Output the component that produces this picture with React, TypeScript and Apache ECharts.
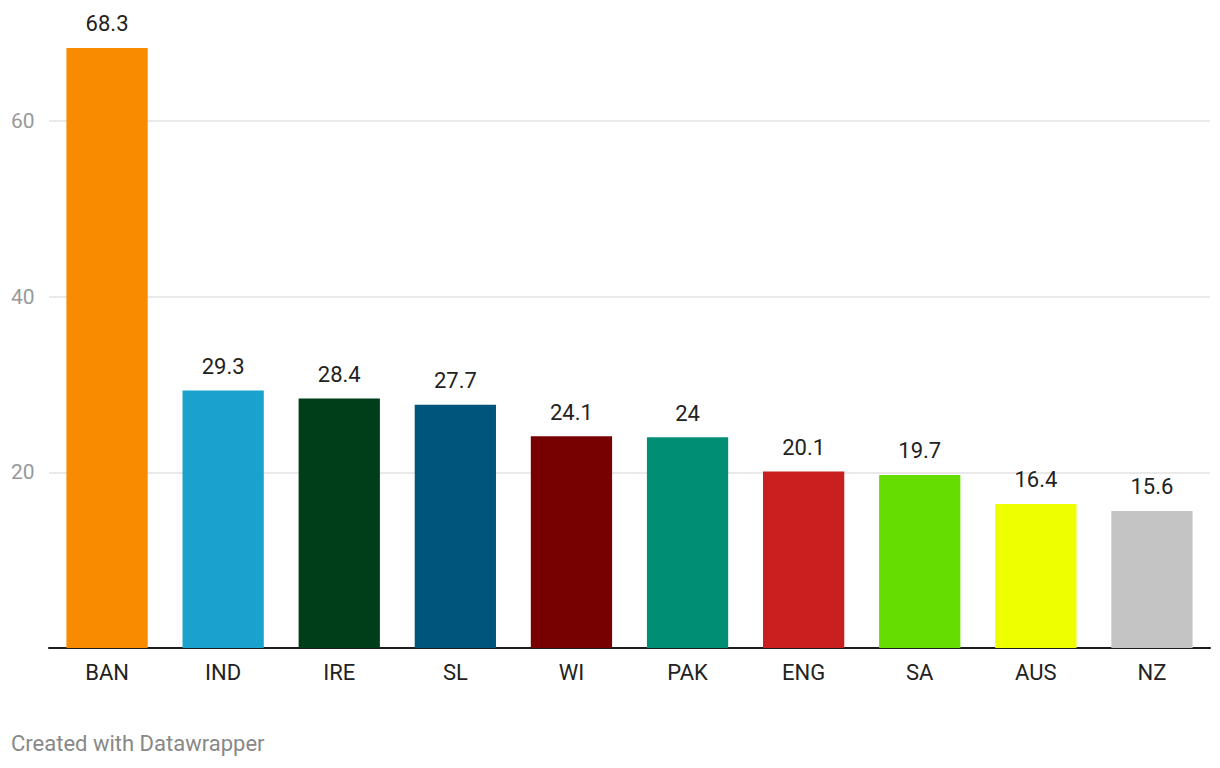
import React, { useEffect, useRef } from "react";
import * as echarts from "echarts";

const categories = ["BAN", "IND", "IRE", "SL", "WI", "PAK", "ENG", "SA", "AUS", "NZ"];
const values = [68.3, 29.3, 28.4, 27.7, 24.1, 24, 20.1, 19.7, 16.4, 15.6];
const colors = ["#f88b00", "#1aa1cd", "#003d19", "#00557c", "#770000", "#008f74", "#c91f1f", "#66dd00", "#eeff00", "#c4c4c4"];
const footer = "Created with Datawrapper";

export default function App() {
  const ref = useRef<HTMLDivElement>(null);
  useEffect(() => {
    if (!ref.current) return;
    const chart = echarts.init(ref.current, null, { renderer: "svg" });
    const font = "Roboto, 'Noto Sans', sans-serif";
    chart.setOption({
      animation: false,
      textStyle: { fontFamily: font },
      grid: { left: 49, right: 10, top: 33, bottom: 120, containLabel: false },
      xAxis: {
        type: "category",
        data: categories,
        axisLine: { lineStyle: { color: "#1d1d1d", width: 2 } },
        axisTick: { show: false },
        axisLabel: { color: "#222", fontSize: 22, margin: 13, fontFamily: font },
      },
      yAxis: {
        type: "value",
        min: 0,
        max: 70,
        interval: 20,
        axisLine: { show: false },
        axisTick: { show: false },
        axisLabel: {
          color: "#999",
          fontSize: 21,
          align: "left",
          margin: 38,
          showMaxLabel: false,
          showMinLabel: false,
          fontFamily: font,
        },
        splitLine: { lineStyle: { color: "#e2e2e2", width: 1.5 }, showMaxLine: false },
      },
      series: [
        {
          type: "bar",
          barWidth: "70%",
          data: values.map((v, i) => ({ value: v, itemStyle: { color: colors[i] } })),
          label: {
            show: true,
            position: "top",
            distance: 13,
            color: "#222",
            fontSize: 22,
            fontFamily: font,
          },
        },
      ],
      graphic: [
        {
          type: "text",
          left: 11,
          top: 732,
          style: { text: footer, fill: "#888", fontSize: 22, fontFamily: font },
        },
      ],
    });
    return () => chart.dispose();
  }, []);
  return (
    <div
      ref={ref}
      style={{ position: "fixed", left: 0, top: 0, width: 1220, height: 768, background: "#fff" }}
    />
  );
}
